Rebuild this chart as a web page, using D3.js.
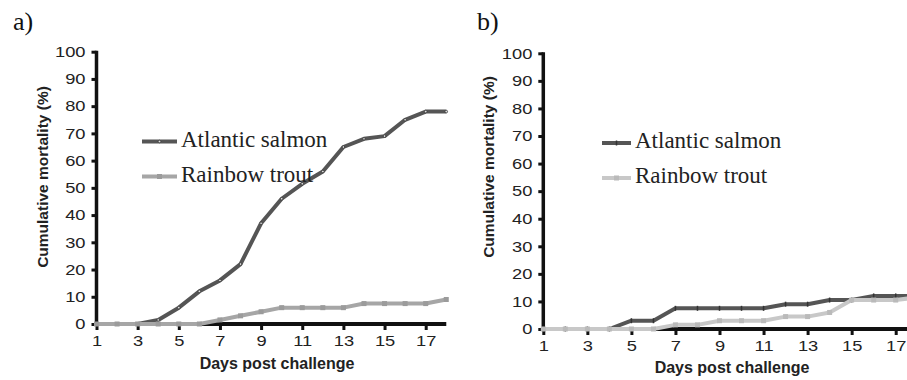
<!DOCTYPE html>
<html>
<head>
<meta charset="utf-8">
<script src="https://cdn.jsdelivr.net/npm/d3@7"></script>
<style>
  body { margin: 0; background: #fff; }
  svg { display: block; }
</style>
</head>
<body>
<div id="chart"></div>
<script>
// data
var days = [1, 2, 3, 4, 5, 6, 7, 8, 9, 10, 11, 12, 13, 14, 15, 16, 17, 18];
var salmonA = [0, 0, 0, 1.5, 6, 12, 16, 22, 37, 46, 51.5, 56, 65, 68, 69, 75, 78, 78];
var troutA  = [0, 0, 0, 0, 0, 0, 1.5, 3, 4.5, 6, 6, 6, 6, 7.5, 7.5, 7.5, 7.5, 9];
var salmonB = [0, 0, 0, 0, 3, 3, 7.5, 7.5, 7.5, 7.5, 7.5, 9, 9, 10.5, 10.5, 12, 12, 12];
var troutB  = [0, 0, 0, 0, 0, 0, 1.5, 1.5, 3, 3, 3, 4.5, 4.5, 6, 10.5, 10.5, 10.5, 11.5];
var yTicks = [0, 10, 20, 30, 40, 50, 60, 70, 80, 90, 100];
var xTicks = [1, 3, 5, 7, 9, 11, 13, 15, 17];
var seriesNames = ["Atlantic salmon", "Rainbow trout"];

var svgWidth = 907;
var svgHeight = 380;

var svg = d3.select("#chart")
  .append("svg")
  .attr("width", svgWidth)
  .attr("height", svgHeight);

var sansFont = "'Liberation Sans', Arial, sans-serif";
var serifFont = "'Liberation Serif', 'Times New Roman', serif";

function drawPanel(p) {
  var xScale = d3.scaleLinear().domain([1, 17]).range([p.x1, p.x17]);
  var yScale = d3.scaleLinear().domain([0, 100]).range([p.y0, p.y100]);

  // panel letter
  svg.append("text")
    .attr("x", p.letterX)
    .attr("y", 30)
    .style("font-family", serifFont)
    .style("font-size", "26px")
    .attr("fill", "#111")
    .text(p.letter);

  // y axis
  var yAxis = svg.append("g")
    .attr("transform", `translate(${p.x1}, 0)`)
    .call(d3.axisLeft(yScale).tickValues(yTicks).tickSize(5).tickPadding(4));
  yAxis.select(".domain")
    .attr("d", `M0,${p.y100 - 1}V${p.y0 + 2}`)
    .attr("stroke", "#111")
    .attr("stroke-width", 3.5);
  yAxis.selectAll(".tick line").attr("stroke", "#111").attr("stroke-width", 3);
  yAxis.selectAll(".tick text")
    .style("font-family", sansFont)
    .style("font-size", "15px")
    .attr("fill", "#222")
    .attr("transform", "scale(1.22,1)");

  // x axis
  var xAxis = svg.append("g")
    .attr("transform", `translate(0, ${p.y0})`)
    .call(d3.axisBottom(xScale).tickValues(xTicks).tickSize(6).tickPadding(5));
  xAxis.select(".domain")
    .attr("d", `M${p.x1},0H${xScale(18)}`)
    .attr("stroke", "#111")
    .attr("stroke-width", 4);
  xAxis.selectAll(".tick line").attr("stroke", "#111").attr("stroke-width", 3);
  xAxis.selectAll(".tick text")
    .style("font-family", sansFont)
    .style("font-size", "15px")
    .attr("fill", "#222")
    .attr("transform", "scale(1.22,1)");

  // axis titles
  svg.append("text")
    .attr("transform", `translate(${p.yLabelX}, ${p.yLabelY}) rotate(-90)`)
    .style("text-anchor", "middle")
    .style("font-family", sansFont)
    .style("font-weight", "bold")
    .style("font-size", "15.5px")
    .attr("fill", "#222")
    .text("Cumulative mortality (%)");

  svg.append("text")
    .attr("x", p.xLabelX)
    .attr("y", p.xLabelY)
    .style("text-anchor", "middle")
    .style("font-family", sansFont)
    .style("font-weight", "bold")
    .style("font-size", "16px")
    .attr("fill", "#222")
    .text("Days post challenge");

  var line = d3.line()
    .x((d, i) => xScale(days[i]))
    .y(d => yScale(d));

  var series = [
    { values: p.salmon, color: "#555555", marker: p.salmonMarker },
    { values: p.trout, color: p.troutColor, marker: "square" }
  ];

  series.forEach(function(s) {
    svg.append("path")
      .datum(s.values)
      .attr("fill", "none")
      .attr("stroke", s.color)
      .attr("stroke-width", 4)
      .attr("stroke-linejoin", "round")
      .attr("d", line);
    drawMarkers(s.values.map((v, i) => [xScale(days[i]), yScale(v)]), s);
  });

  // legend
  seriesNames.forEach(function(name, i) {
    var s = series[i];
    var ly = p.legendY + i * 35;
    svg.append("line")
      .attr("x1", p.legendX1)
      .attr("x2", p.legendX2)
      .attr("y1", ly)
      .attr("y2", ly)
      .attr("stroke", s.color)
      .attr("stroke-width", 4);
    drawMarkers([[(p.legendX1 + p.legendX2) / 2, ly]], s);
    svg.append("text")
      .attr("x", p.legendX2 + 4)
      .attr("y", ly + 5)
      .style("font-family", serifFont)
      .style("font-size", "23px")
      .attr("fill", "#222")
      .text(name);
  });
}

function drawMarkers(points, s) {
  if (s.marker === "circle") {
    svg.append("g").selectAll("circle")
      .data(points)
      .enter()
      .append("circle")
      .attr("cx", d => d[0])
      .attr("cy", d => d[1])
      .attr("r", 1.3)
      .attr("fill", "#ddd")
      .attr("stroke", "#333")
      .attr("stroke-width", 0.8);
  } else if (s.marker === "tick") {
    svg.append("g").selectAll("line")
      .data(points)
      .enter()
      .append("line")
      .attr("x1", d => d[0])
      .attr("x2", d => d[0])
      .attr("y1", d => d[1] - 2.5)
      .attr("y2", d => d[1] + 2.5)
      .attr("stroke", "#333")
      .attr("stroke-width", 1.5);
  } else {
    svg.append("g").selectAll("rect")
      .data(points)
      .enter()
      .append("rect")
      .attr("x", d => d[0] - 2.5)
      .attr("y", d => d[1] - 2.5)
      .attr("width", 5)
      .attr("height", 5)
      .attr("fill", d3.color(s.color).darker(0.2));
  }
}

drawPanel({
  letter: "a)", letterX: 13,
  x1: 96.5, x17: 425.7, y0: 324, y100: 51.7,
  salmon: salmonA, trout: troutA,
  salmonMarker: "circle", troutColor: "#a6a6a6",
  yLabelX: 48, yLabelY: 177,
  xLabelX: 277, xLabelY: 369,
  legendX1: 142, legendX2: 177, legendY: 141.5
});

drawPanel({
  letter: "b)", letterX: 477,
  x1: 543.3, x17: 895.7, y0: 329, y100: 53.3,
  salmon: salmonB, trout: troutB,
  salmonMarker: "tick", troutColor: "#c8c8c8",
  yLabelX: 494, yLabelY: 167,
  xLabelX: 732, xLabelY: 373,
  legendX1: 602, legendX2: 631, legendY: 143
});
</script>
</body>
</html>
